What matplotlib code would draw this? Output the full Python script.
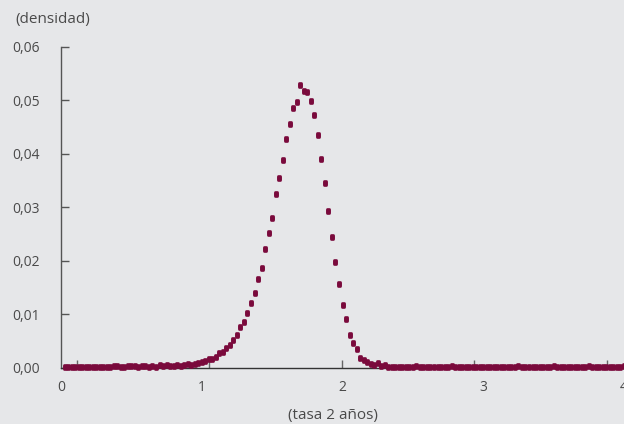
import numpy as np
import matplotlib
matplotlib.use("Agg")
import matplotlib.pyplot as plt
from matplotlib.path import Path

# x grid (tasa 2 años), step 0.025
x_vals = np.round(np.arange(1, 161) * 0.025, 3)

tail_left = [0.0001, 0.0001, 0.0001, 0.0001, 0.0001, 0.0001, 0.0001, 0.0001, 0.0001, 0.0001,
             0.0001, 0.0001, 0.0001, 0.0001, 0.0002, 0.0003, 0.0001, 0.0001, 0.0002, 0.0003,
             0.0002, 0.0001, 0.0003, 0.0003, 0.0001, 0.0002, 0.0001, 0.0004, 0.0002, 0.0004,
             0.0002, 0.0003, 0.0005, 0.0003]
body = [0.0004, 0.00066, 0.0005, 0.00066, 0.0009, 0.0010, 0.0013, 0.0016, 0.0015, 0.0020,
        0.0027, 0.0029, 0.0037, 0.0042, 0.0051, 0.0061, 0.0075, 0.0085, 0.0101, 0.0121,
        0.0140, 0.0166, 0.0186, 0.0222, 0.0251, 0.0279, 0.0324, 0.0354, 0.0389, 0.0427,
        0.0455, 0.0486, 0.0496, 0.0528, 0.0518, 0.0516, 0.0498, 0.0472, 0.0435, 0.0390,
        0.0346, 0.0292, 0.0245, 0.0198, 0.0156, 0.0116, 0.0091, 0.0061, 0.0046, 0.0035,
        0.0018, 0.0014, 0.0010, 0.00066, 0.0004, 0.0008, 0.0003, 0.0005]
tail_right = [0.0001, 0.0001, 0.0001, 0.0001, 0.0001, 0.0001, 0.0001, 0.0001, 0.0002, 0.0001,
              0.0001, 0.0001, 0.0001, 0.0001, 0.0001, 0.0001, 0.0001, 0.0001, 0.0003, 0.0001,
              0.0001, 0.0001, 0.0001, 0.0001, 0.0001, 0.0001, 0.0001, 0.0001, 0.0001, 0.0001,
              0.0001, 0.0001, 0.0001, 0.0001, 0.0001, 0.0001, 0.0001, 0.0003, 0.0001, 0.0001,
              0.0001, 0.0001, 0.0001, 0.0001, 0.0001, 0.0001, 0.0001, 0.0003, 0.0001, 0.0001,
              0.0001, 0.0001, 0.0001, 0.0001, 0.0001, 0.0001, 0.0001, 0.0003, 0.0001, 0.0001,
              0.0001, 0.0001, 0.0001, 0.0001, 0.0001, 0.0001, 0.0001, 0.0003]
density = tail_left + body + tail_right

x_tick_labels = ["0", "1", "2", "3", "4"]
y_ticks = [0.0, 0.01, 0.02, 0.03, 0.04, 0.05, 0.06]
y_tick_labels = ["0,00", "0,01", "0,02", "0,03", "0,04", "0,05", "0,06"]

bg = "#E6E7E9"
txt = "#4A4A4A"
mk = "#7A0A3C"

plt.rcParams['font.family'] = ['Open Sans', 'DejaVu Sans']

# rounded-rectangle marker (superellipse), taller than wide
t = np.linspace(0, 2 * np.pi, 60)
px_ = 0.74 * np.sign(np.cos(t)) * np.abs(np.cos(t)) ** 0.5
py_ = 1.0 * np.sign(np.sin(t)) * np.abs(np.sin(t)) ** 0.5
marker_path = Path(np.column_stack([px_, py_]), closed=False)

fig = plt.figure(figsize=(6.24, 4.24), dpi=100, facecolor=bg)
ax = fig.add_axes([61 / 624, 56.5 / 424, 1 - 61 / 624, (367.5 - 46.7) / 424])
ax.set_facecolor(bg)

ax.plot(x_vals, density, linestyle="none", marker=marker_path, markersize=4.8,
        color=mk, markeredgewidth=0, clip_on=False, zorder=5)

ax.set_xlim(0, (624 - 62) / 141)
ax.set_ylim(0, 0.06)

for s in ["top", "right"]:
    ax.spines[s].set_visible(False)
ax.spines["left"].set_color("#555555")
ax.spines["left"].set_linewidth(1.0)
ax.spines["bottom"].set_color("#333333")
ax.spines["bottom"].set_linewidth(1.0)

ax.set_yticks(y_ticks)
ax.set_yticklabels(y_tick_labels)
ax.tick_params(axis="y", direction="in", length=6, width=1, color="#555555",
               labelsize=10, labelcolor=txt, pad=15)

ax.set_xticks(range(len(x_tick_labels)))
ax.set_xticklabels(x_tick_labels)
ax.tick_params(axis="x", which="major", length=0, labelsize=10, labelcolor=txt, pad=9)
ax.set_xticks([0.1135, 1.05, 1.993, 2.936, 3.879], minor=True)
ax.tick_params(axis="x", which="minor", direction="in", length=6, width=1, color="#666666")

fig.text(15 / 624, 1 - 20 / 424, "(densidad)", fontsize=11, color=txt, va="center", ha="left")
fig.text(333 / 624, 1 - 415 / 424, "(tasa 2 años)", fontsize=11, color=txt, va="center", ha="center")

fig.savefig("out.png", dpi=100, facecolor=bg)
